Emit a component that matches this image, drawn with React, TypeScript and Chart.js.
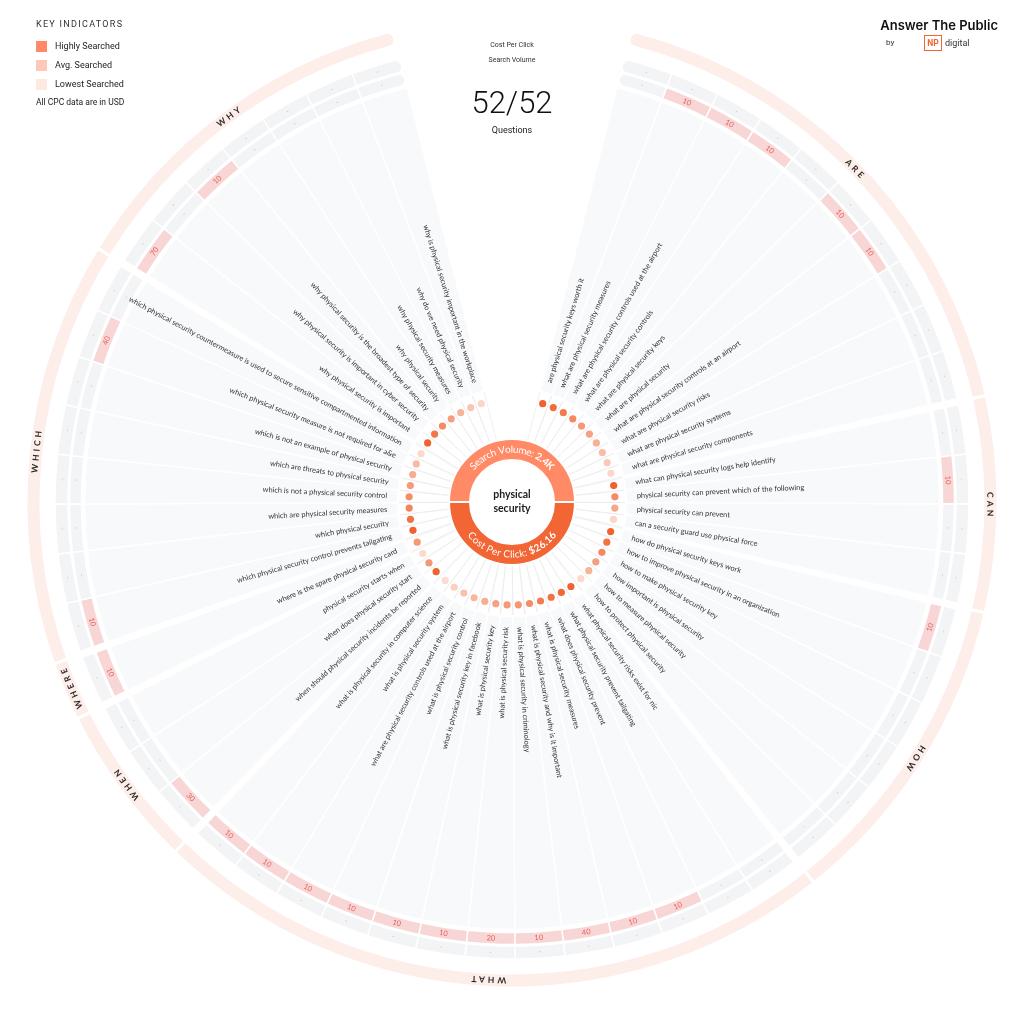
import React, { useEffect, useRef } from 'react';
import { Chart, registerables } from 'chart.js';

Chart.register(...registerables);

// ---------------- data ----------------
const categories = ['ARE', 'CAN', 'HOW', 'WHAT', 'WHEN', 'WHERE', 'WHICH', 'WHY'];
const categoryCounts = [10, 4, 6, 13, 3, 1, 8, 7];

const questions = [
  'are physical security keys worth it',
  'what are physical security measures',
  'what are physical security controls used at the airport',
  'what are physical security controls',
  'what are physical security keys',
  'what are physical security',
  'what are physical security controls at an airport',
  'what are physical security risks',
  'what are physical security systems',
  'what are physical security components',
  'what can physical security logs help identify',
  'physical security can prevent which of the following',
  'physical security can prevent',
  'can a security guard use physical force',
  'how do physical security keys work',
  'how to improve physical security in an organization',
  'how to make physical security key',
  'how important is physical security',
  'how to measure physical security',
  'how to protect physical security',
  'what physical security risks exist for nic',
  'what physical security prevent tailgating',
  'what does physical security prevent',
  'what is physical security measures',
  'what is physical security and why is it important',
  'what is physical security in criminology',
  'what is physical security risk',
  'what is physical security key',
  'what is physical security key in facebook',
  'what is physical security control',
  'what are physical security controls used at the airport',
  'what is physical security system',
  'what is physical security in computer science',
  'when should physical security incidents be reported',
  'when does physical security start',
  'physical security starts when',
  'where is the spare physical security card',
  'which physical security control prevents tailgating',
  'which physical security',
  'which are physical security measures',
  'which is not a physical security control',
  'which are threats to physical security',
  'which is not an example of physical security',
  'which physical security measure is not required for a&e',
  'which physical security countermeasure is used to secure sensitive compartmented information',
  'why physical security is important',
  'why physical security is important in cyber security',
  'why physical security is the broadest type of security',
  'why physical security',
  'why physical security measures',
  'why do we need physical security',
  'why is physical security important in the workplace',
];

const searchVolume: (number | null)[] = [
  null, 10, 10, 10, null, 10, 10, null, null, null,
  null, 10, null, null,
  10, null, null, null, null, null,
  null, null, 10, 10, 40, 10, 20, 10, 10, 10, 10, 10, 10,
  30, null, null,
  10,
  10, null, null, null, null, null, 40, null,
  70, null, 10, null, null, null, null,
];

const costPerClick: (number | null)[] = [
  null, null, null, null, null, null, null, null, null, null,
  null, null, null, null,
  null, null, null, null, null, null,
  null, null, null, null, null, null, null, null, null, null, null, null, null,
  null, null, null,
  null,
  null, null, null, null, null, null, null, null,
  null, null, null, null, null, null, null,
];

// relative intensity of each question's dot (1 = darkest)
const dotShade = [
  1.0, 0.92, 0.82, 0.72, 0.6, 0.52, 0.42, 0.34, 0.24, 0.14,
  1.0, 0.7, 0.5, 0.15,
  1.0, 0.88, 0.72, 0.55, 0.4, 0.12,
  1.0, 0.95, 0.88, 0.8, 0.68, 0.62, 0.58, 0.52, 0.45, 0.38, 0.3, 0.2, 0.1,
  1.0, 0.6, 0.12,
  0.6,
  1.0, 0.88, 0.75, 0.68, 0.58, 0.45, 0.35, 0.12,
  1.0, 0.85, 0.7, 0.55, 0.4, 0.28, 0.15,
];

const keyword = ['physical', 'security'];
const totalVolume = '2.4K';
const totalCpc = '$26.16';
const questionsShown = 52;
const questionsTotal = 52;

// ---------------- layout ----------------
const GAP = 0.12;
const START_DEG = 14.2;
const SWEEP_DEG = 331.6;
const TRANSPARENT = 'rgba(0,0,0,0)';

type Slot = { item: number | null; cat: number };
const slots: Slot[] = [];
{
  let q = 0;
  categoryCounts.forEach((n, ci) => {
    for (let k = 0; k < n; k++) slots.push({ item: q++, cat: ci });
    if (ci < categoryCounts.length - 1) slots.push({ item: null, cat: ci });
  });
}
const slotWeights = slots.map((s) => (s.item === null ? GAP : 1));
const ringWeights = categoryCounts.map((n, i) =>
  i === 0 || i === categoryCounts.length - 1 ? n + GAP / 2 : n + GAP
);

const DS_RING = 0, DS_CPC = 2, DS_SV = 4, DS_SECT = 6, DS_DOTS = 7, DS_DONUT = 8;

const DARK = [240, 98, 47];
const LIGHT = [253, 234, 227];
function shadeColor(s: number) {
  const c = LIGHT.map((l, i) => Math.round(l + (DARK[i] - l) * s));
  return `rgb(${c[0]},${c[1]},${c[2]})`;
}

function endRadius(len: number, r: number) {
  return (ctx: any) => {
    if (ctx.dataIndex === 0) return { outerStart: r, innerStart: r, outerEnd: 0, innerEnd: 0 };
    if (ctx.dataIndex === len - 1) return { outerStart: 0, innerStart: 0, outerEnd: r, innerEnd: r };
    return 0;
  };
}

function drawArcText(ctx: CanvasRenderingContext2D, cx: number, cy: number, r: number,
  parts: { text: string; font: string }[], top: boolean) {
  const chars: { ch: string; font: string; w: number }[] = [];
  parts.forEach((p) => {
    ctx.font = p.font;
    for (const ch of p.text) chars.push({ ch, font: p.font, w: ctx.measureText(ch).width });
  });
  const total = chars.reduce((a, c) => a + c.w, 0);
  ctx.save();
  ctx.translate(cx, cy);
  ctx.textAlign = 'center';
  ctx.textBaseline = 'middle';
  if (top) {
    ctx.rotate(-total / (2 * r));
    chars.forEach((c) => {
      ctx.rotate(c.w / (2 * r));
      ctx.font = c.font;
      ctx.fillText(c.ch, 0, -r);
      ctx.rotate(c.w / (2 * r));
    });
  } else {
    ctx.rotate(total / (2 * r));
    chars.forEach((c) => {
      ctx.rotate(-c.w / (2 * r));
      ctx.font = c.font;
      ctx.fillText(c.ch, 0, r);
      ctx.rotate(-c.w / (2 * r));
    });
  }
  ctx.restore();
}

const wheelText = {
  id: 'wheelText',
  afterDatasetsDraw(chart: any) {
    const ctx: CanvasRenderingContext2D = chart.ctx;
    const TAU = Math.PI * 2;
    const norm = (a: number) => ((a % TAU) + TAU) % TAU;

    // category labels
    const ringArcs = chart.getDatasetMeta(DS_RING).data;
    ringArcs.forEach((arc: any, i: number) => {
      const mid = (arc.startAngle + arc.endAngle) / 2;
      const r = (arc.innerRadius + arc.outerRadius) / 2;
      ctx.save();
      ctx.translate(arc.x + Math.cos(mid) * r, arc.y + Math.sin(mid) * r);
      ctx.rotate(mid + Math.PI / 2);
      ctx.font = 'bold 8.5px Lato';
      (ctx as any).letterSpacing = '3px';
      ctx.fillStyle = '#2a2a2a';
      ctx.textAlign = 'center';
      ctx.textBaseline = 'middle';
      ctx.fillText(categories[i], 1.5, 0.5);
      ctx.restore();
    });

    const sectArcs = chart.getDatasetMeta(DS_SECT).data;
    const svArcs = chart.getDatasetMeta(DS_SV).data;
    const cpcArcs = chart.getDatasetMeta(DS_CPC).data;
    const dotArcs = chart.getDatasetMeta(DS_DOTS).data;

    const cellText = (arc: any, text: string, color: string, font: string) => {
      const mid = (arc.startAngle + arc.endAngle) / 2;
      const r = (arc.innerRadius + arc.outerRadius) / 2;
      let rot = mid + Math.PI / 2;
      const th = norm(rot);
      if (th > Math.PI / 2 && th < (3 * Math.PI) / 2) rot -= Math.PI;
      ctx.save();
      ctx.translate(arc.x + Math.cos(mid) * r, arc.y + Math.sin(mid) * r);
      ctx.rotate(rot);
      ctx.font = font;
      ctx.fillStyle = color;
      ctx.textAlign = 'center';
      ctx.textBaseline = 'middle';
      ctx.fillText(text, 0, 0);
      ctx.restore();
    };

    // spokes in the inner white ring
    ctx.save();
    ctx.strokeStyle = '#ebecef';
    ctx.lineWidth = 0.8;
    slots.forEach((s, j) => {
      if (s.item === null) return;
      const arc = dotArcs[j];
      [arc.startAngle, arc.endAngle].forEach((a: number) => {
        ctx.beginPath();
        ctx.moveTo(arc.x + Math.cos(a) * 64, arc.y + Math.sin(a) * 64);
        ctx.lineTo(arc.x + Math.cos(a) * 113, arc.y + Math.sin(a) * 113);
        ctx.stroke();
      });
    });
    ctx.restore();

    slots.forEach((s, j) => {
      if (s.item === null) return;
      const q = s.item;
      // values
      const sv = searchVolume[q];
      cellText(svArcs[j], sv == null ? '-' : String(sv), sv == null ? '#b9bdc5' : '#e5625c',
        sv == null ? '7px Lato' : '7.5px Lato');
      const cpc = costPerClick[q];
      cellText(cpcArcs[j], cpc == null ? '-' : String(cpc), '#b9bdc5', '7px Lato');

      // dots
      const da = dotArcs[j];
      const dm = (da.startAngle + da.endAngle) / 2;
      ctx.beginPath();
      ctx.fillStyle = shadeColor(dotShade[q]);
      ctx.arc(da.x + Math.cos(dm) * 103, da.y + Math.sin(dm) * 103, 3.6, 0, TAU);
      ctx.fill();

      // question labels
      const arc = sectArcs[j];
      const mid = (arc.startAngle + arc.endAngle) / 2;
      const th = norm(mid + Math.PI / 2);
      ctx.save();
      ctx.translate(arc.x, arc.y);
      ctx.font = '7.4px Lato';
      ctx.fillStyle = '#333';
      ctx.textBaseline = 'middle';
      if (th < Math.PI) {
        ctx.rotate(mid);
        ctx.textAlign = 'left';
        ctx.fillText(questions[q], 125, 0);
      } else {
        ctx.rotate(mid + Math.PI);
        ctx.textAlign = 'right';
        ctx.fillText(questions[q], -125, 0);
      }
      ctx.restore();
    });

    // donut texts
    const donut = chart.getDatasetMeta(DS_DONUT).data[0];
    const cx = donut.x, cy = donut.y;
    const rm = (donut.innerRadius + donut.outerRadius) / 2;
    ctx.fillStyle = '#ffffff';
    drawArcText(ctx, cx, cy, rm, [
      { text: 'Search Volume: ', font: '10px Lato' },
      { text: totalVolume, font: 'bold 10px Lato' },
    ], true);
    drawArcText(ctx, cx, cy, rm, [
      { text: 'Cost Per Click: ', font: '10px Lato' },
      { text: totalCpc, font: 'bold 10px Lato' },
    ], false);

    ctx.save();
    ctx.fillStyle = '#1d1d1d';
    ctx.font = 'bold 10.5px Lato';
    ctx.textAlign = 'center';
    ctx.textBaseline = 'middle';
    ctx.fillText(keyword[0], cx, cy - 7);
    ctx.fillText(keyword[1], cx, cy + 7);
    ctx.restore();
  },
};

function WheelChart() {
  const ref = useRef<HTMLCanvasElement | null>(null);
  useEffect(() => {
    if (!ref.current) return;
    const sectColors = slots.map((s) => (s.item === null ? TRANSPARENT : '#f8f9fb'));
    const cpcColors = slots.map((s) => (s.item === null ? TRANSPARENT : '#f3f4f6'));
    const svColors = slots.map((s) =>
      s.item === null ? TRANSPARENT : searchVolume[s.item] != null ? '#f8d6d6' : '#f3f4f6'
    );
    const spacer = (w: number) => ({
      data: [1], backgroundColor: [TRANSPARENT], borderWidth: 0, weight: w,
      rotation: 0, circumference: 360,
    });
    const chart = new Chart(ref.current, {
      type: 'doughnut',
      data: {
        labels: slots.map((s) => (s.item === null ? '' : questions[s.item])),
        datasets: [
          {
            data: ringWeights, backgroundColor: categoryCounts.map(() => '#fdeee9'),
            borderColor: '#ffffff', borderWidth: 3, weight: 15,
            borderRadius: endRadius(ringWeights.length, 7),
          } as any,
          spacer(14),
          {
            data: slotWeights, backgroundColor: cpcColors, borderColor: '#ffffff', borderWidth: 1.5,
            weight: 13, borderRadius: endRadius(slotWeights.length, 6),
          } as any,
          spacer(1.5),
          {
            data: slotWeights, backgroundColor: svColors, borderColor: '#ffffff', borderWidth: 1.5,
            weight: 12, borderRadius: endRadius(slotWeights.length, 6),
          } as any,
          spacer(3),
          {
            data: slotWeights, backgroundColor: sectColors, borderColor: '#ffffff', borderWidth: 1.6,
            weight: 313,
          } as any,
          {
            data: slotWeights, backgroundColor: slots.map(() => TRANSPARENT), borderWidth: 0,
            weight: 51.5,
          } as any,
          {
            data: [1, 1], backgroundColor: ['#ff8a65', '#f26534'], borderColor: '#ffffff',
            borderWidth: 2, weight: 21, rotation: -90, circumference: 360,
          } as any,
        ],
      },
      options: {
        responsive: false,
        maintainAspectRatio: false,
        animation: false,
        events: [],
        rotation: START_DEG,
        circumference: SWEEP_DEG,
        radius: 486,
        cutout: (42 / 486 * 100).toFixed(4) + '%',
        layout: { padding: { top: 16, bottom: 36, left: 0, right: 0 } },
        plugins: { legend: { display: false }, tooltip: { enabled: false }, title: { display: false } },
      } as any,
      plugins: [wheelText],
    });
    return () => chart.destroy();
  }, []);
  return <canvas ref={ref} width={1024} height={1024} style={{ display: 'block', position: 'absolute', left: 0, top: 0 }} />;
}

const abs = (s: React.CSSProperties): React.CSSProperties => ({ position: 'absolute', whiteSpace: 'nowrap', ...s });

export default function App() {
  const legend = [
    { label: 'Highly Searched', color: '#ff8a65' },
    { label: 'Avg. Searched', color: '#fbc8ba' },
    { label: 'Lowest Searched', color: '#fde8e2' },
  ];
  return (
    <div style={{ position: 'fixed', left: 0, top: 0, width: 1024, height: 1024, background: '#fff', overflow: 'hidden', fontFamily: 'Roboto, sans-serif' }}>
      <WheelChart />
      <div style={abs({ left: 36, top: 19, fontSize: 9, lineHeight: '11px', letterSpacing: 1.3, color: '#333' })}>KEY INDICATORS</div>
      {legend.map((l, i) => (
        <React.Fragment key={l.label}>
          <div style={abs({ left: 36, top: 41 + i * 19, width: 11, height: 11, background: l.color })} />
          <div style={abs({ left: 55, top: 41 + i * 19, fontSize: 9, lineHeight: '11px', color: '#222' })}>{l.label}</div>
        </React.Fragment>
      ))}
      <div style={abs({ left: 36, top: 97, fontSize: 8.5, lineHeight: '11px', color: '#222' })}>All CPC data are in USD</div>

      <div style={abs({ left: 412, width: 200, top: 40, textAlign: 'center', fontSize: 7, lineHeight: '10px', color: '#333' })}>Cost Per Click</div>
      <div style={abs({ left: 412, width: 200, top: 55, textAlign: 'center', fontSize: 7, lineHeight: '10px', color: '#333' })}>Search Volume</div>
      <div style={abs({ left: 412, width: 200, top: 85, textAlign: 'center', fontSize: 31, fontWeight: 300, lineHeight: '36px', color: '#111' })}>{questionsShown}/{questionsTotal}</div>
      <div style={abs({ left: 412, width: 200, top: 124, textAlign: 'center', fontSize: 9, lineHeight: '12px', color: '#222' })}>Questions</div>

      <div style={abs({ left: 860, width: 138, top: 16, textAlign: 'right', fontFamily: 'Inter, sans-serif', fontWeight: 600, fontSize: 13, lineHeight: '18px', color: '#111' })}>Answer The Public</div>
      <div style={abs({ left: 886, top: 38, fontSize: 8, lineHeight: '10px', color: '#333' })}>by</div>
      <div style={abs({ left: 924, top: 35, width: 16, height: 14, border: '1px solid #f26532', color: '#f26532', fontWeight: 700, fontSize: 8.5, lineHeight: '14px', textAlign: 'center' })}>NP</div>
      <div style={abs({ left: 945, top: 37, fontSize: 9, lineHeight: '12px', color: '#333' })}>digital</div>
    </div>
  );
}
